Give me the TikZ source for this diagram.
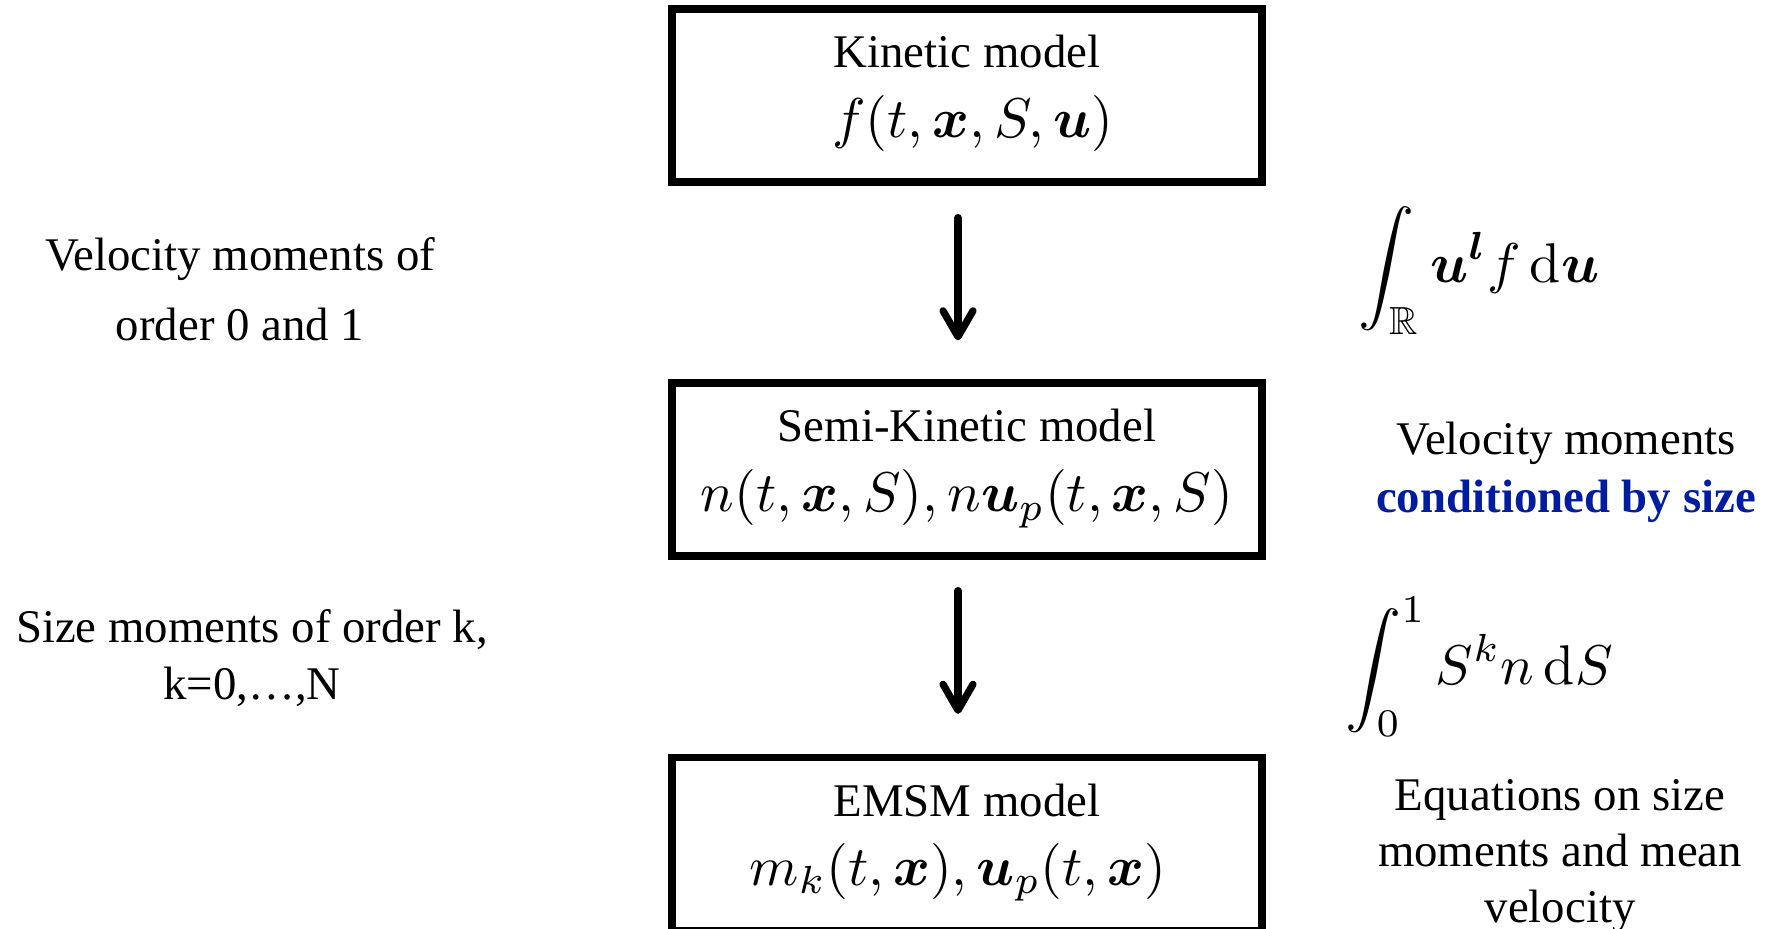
\documentclass[tikz,border=0pt]{standalone}
\usepackage{amsmath,amssymb,bm}
\usepackage[no-math]{fontspec}
\setmainfont{Liberation Serif}
\usetikzlibrary{arrows.meta,calc}
\definecolor{condblue}{RGB}{0,28,160}
\tikzset{
  modelbox/.style={draw, line width=3.6pt, minimum width=295pt, minimum height=86.5pt, inner sep=0pt},
  boxtitle/.style={anchor=base, inner sep=0pt, font=\fontsize{23.4}{28}\selectfont},
  boxmath/.style={anchor=base, inner sep=0pt, font=\normalsize, scale=2.8},
  sidenote/.style={anchor=base, align=center, inner sep=0pt},
  stepflow/.style={line width=3.6pt, line cap=round,
    -{Straight Barb[length=13pt,width=15pt,round]}},
}
\begin{document}
\begin{tikzpicture}[x=0.5pt,y=-0.5pt]
\useasboundingbox (0,0) rectangle (1773,929);

% the three models
\node[modelbox] (kin)  at (967,95.5)  {};
\node[modelbox] (semi) at (967,469.5) {};
\node[modelbox] (emsm) at (967,844)   {};

\node[boxtitle] (kinT)  at ($(kin.center)+(0,-27.5)$)  {Kinetic model};
\node[boxmath]  (kinF)  at ($(kin.center)+(6,42.5)$)   {$f(t,\bm{x},S,\bm{u})$};
\node[boxtitle] (semiT) at ($(semi.center)+(0,-27.5)$) {Semi-Kinetic model};
\node[boxmath]  (semiF) at ($(semi.center)+(0,42.5)$)  {$n(t,\bm{x},S),n\bm{u}_p(t,\bm{x},S)$};
\node[boxtitle] (emsmT) at ($(emsm.center)+(0,-27.5)$) {EMSM model};
\node[boxmath]  (emsmF) at ($(emsm.center)+(-9,41)$)   {$m_k(t,\bm{x}),\bm{u}_p(t,\bm{x})$};

% reduction steps
\draw[stepflow] ($(kin.south)+(-9,32)$)  -- ($(semi.north)+(-9,-39)$);
\draw[stepflow] ($(semi.south)+(-9,31)$) -- ($(emsm.north)+(-9,-40)$);

% left-hand comments (anchored on the baseline of their last line)
\node[sidenote, font=\fontsize{23.4}{35}\selectfont] (velL) at (240,341)
  {Velocity moments of\\order 0 and 1};
\node[sidenote, font=\fontsize{23.4}{28.5}\selectfont] (sizeL) at (252,700)
  {Size moments of order k,\\k=0,\dots,N};

% right-hand operators and comments
\node[boxmath] (intU) at (1479,283)
  {$\displaystyle\int_{\mathbb{R}}\bm{u}^{\bm{l}}f\,\mathrm{d}\bm{u}$};
\node[boxmath] (intS) at (1479,685)
  {$\displaystyle\int_0^1 S^k n\,\mathrm{d}S$};
\node[sidenote, font=\fontsize{23.4}{29}\selectfont] (velR) at (1566,513)
  {Velocity moments\\\textcolor{condblue}{\textbf{conditioned by size}}};
\node[sidenote, font=\fontsize{23.4}{28}\selectfont] (eqR) at (1560,922)
  {Equations on size\\moments and mean\\velocity};
\end{tikzpicture}
\end{document}
